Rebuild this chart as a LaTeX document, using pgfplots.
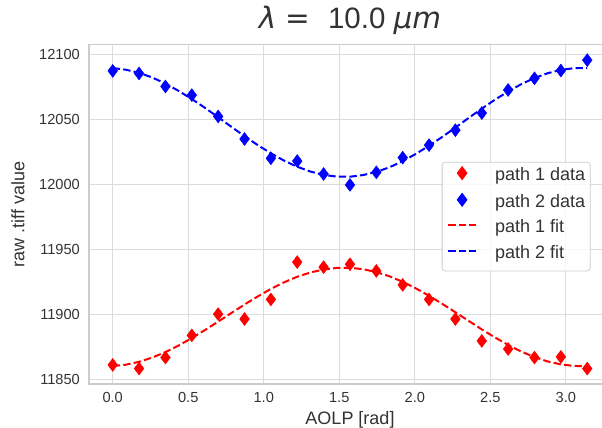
\documentclass[border=0pt]{standalone}
\usepackage{fontspec}
\setmainfont{Liberation Sans}
\newfontfamily\dejavu{DejaVu Sans}
\usepackage{pgfplots}
\pgfplotsset{compat=1.18}
\definecolor{gridc}{HTML}{DCDCDC}
\definecolor{framec}{HTML}{CCCCCC}
\definecolor{txt}{HTML}{333333}
\pgfplotsset{
  markleg/.style={legend image code/.code={\draw[##1, fill opacity=1, draw opacity=1] plot coordinates {(22pt,5pt)};}},
  lineleg/.style={legend image code/.code={\draw[##1, draw opacity=1] (8pt,5pt) -- (36pt,5pt);}},
}
\begin{document}
\begin{tikzpicture}
\begin{axis}[
  scale only axis, width=522pt, height=339.3pt,
  xmin=-0.157, xmax=3.299, ymin=11846.3, ymax=12107.9,
  xtick={0,0.5,...,3.0}, ytick={11850,11900,...,12100},
  scaled ticks=false,
  /pgf/number format/assume math mode=true,
  xticklabel style={/pgf/number format/fixed, /pgf/number format/fixed zerofill, /pgf/number format/precision=1},
  yticklabel style={/pgf/number format/fixed, /pgf/number format/1000 sep={}},
  tick label style={font=\fontsize{14.6}{17}\selectfont, text=txt},
  xticklabel style={inner sep=0pt, anchor=north, yshift=-8pt},
  yticklabel style={inner sep=0pt, anchor=east, xshift=-9pt},
  major tick length=0pt,
  grid=major,
  major grid style={draw=gridc, line width=1pt},
  axis line style={draw=framec, line width=1.25pt},
  title={{\dejavu\itshape λ}{\dejavu\ =\ } 10.0 {\dejavu\itshape μm}},
  title style={at={(0.5,1)}, anchor=base, yshift=9.7pt, font=\fontsize{29.5}{34}\selectfont, text=txt, inner sep=0pt},
  xlabel={AOLP [rad]},
  xlabel style={at={(axis description cs:0.5,0)}, anchor=base, yshift=-40pt, font=\fontsize{18}{22}\selectfont, text=txt, inner sep=0pt},
  ylabel={raw .tiff value},
  ylabel style={at={(axis description cs:-0.136,0.5)}, anchor=center, font=\fontsize{18}{22}\selectfont, text=txt, inner sep=0pt},
  legend cell align=left,
  legend style={at={(rel axis cs:0.6757,0.655)}, anchor=north west,
    font=\fontsize{18}{22}\selectfont, text=txt,
    draw=framec, line width=0.8pt, rounded corners=3pt, fill=white, fill opacity=0.8, text opacity=1,
    inner xsep=5pt, inner ysep=4.5pt, row sep=4.6pt, column sep=18pt,
    nodes={inner sep=0pt, text height=13pt, text depth=8pt}},
]
\addplot[only marks, mark=diamond*, mark size=6.5pt, color=red, markleg]
coordinates {
(0.0000,11861.0) (0.1745,11858.2) (0.3491,11866.7) (0.5236,11883.8) (0.6981,11900.2)
(0.8727,11896.4) (1.0472,11911.5) (1.2217,11940.3) (1.3963,11936.4) (1.5708,11938.6)
(1.7453,11933.5) (1.9199,11922.7) (2.0944,11911.5) (2.2689,11896.4) (2.4435,11879.5)
(2.6180,11873.3) (2.7925,11866.7) (2.9671,11867.2) (3.1416,11858.2)
};
\addlegendentry{path 1 data}
\addplot[only marks, mark=diamond*, mark size=6.5pt, color=blue, markleg]
coordinates {
(0.0000,12087.7) (0.1745,12085.7) (0.3491,12075.7) (0.5236,12069.0) (0.6981,12052.6)
(0.8727,12035.2) (1.0472,12020.3) (1.2217,12018.2) (1.3963,12008.2) (1.5708,11999.8)
(1.7453,12009.5) (1.9199,12020.8) (2.0944,12030.5) (2.2689,12042.0) (2.4435,12055.2)
(2.6180,12073.0) (2.7925,12082.0) (2.9671,12088.0) (3.1416,12096.0)
};
\addlegendentry{path 2 data}
\addplot[no marks, color=red, line width=2pt, dash pattern=on 7.4pt off 3.2pt, lineleg]
coordinates {
(0.0000,11860.1) (0.0873,11861.2) (0.1745,11863.4) (0.2618,11866.7) (0.3491,11870.9)
(0.4363,11876.0) (0.5236,11881.7) (0.6109,11887.9) (0.6981,11894.4) (0.7854,11901.0)
(0.8727,11907.6) (0.9599,11913.8) (1.0472,11919.6) (1.1345,11924.7) (1.2217,11929.0)
(1.3090,11932.3) (1.3963,11934.6) (1.4835,11935.8) (1.5708,11935.9) (1.6581,11934.8)
(1.7453,11932.6) (1.8326,11929.3) (1.9199,11925.1) (2.0071,11920.0) (2.0944,11914.3)
(2.1817,11908.1) (2.2689,11901.6) (2.3562,11895.0) (2.4435,11888.4) (2.5307,11882.2)
(2.6180,11876.4) (2.7053,11871.3) (2.7925,11867.0) (2.8798,11863.7) (2.9671,11861.4)
(3.0543,11860.2) (3.1416,11860.1)
};
\addlegendentry{path 1 fit}
\addplot[no marks, color=blue, line width=2pt, dash pattern=on 7.4pt off 3.2pt, lineleg]
coordinates {
(0.0000,12089.9) (0.0873,12088.6) (0.1745,12086.2) (0.2618,12082.6) (0.3491,12077.9)
(0.4363,12072.3) (0.5236,12066.0) (0.6109,12059.2) (0.6981,12052.0) (0.7854,12044.6)
(0.8727,12037.4) (0.9599,12030.5) (1.0472,12024.2) (1.1345,12018.5) (1.2217,12013.8)
(1.3090,12010.1) (1.3963,12007.5) (1.4835,12006.2) (1.5708,12006.1) (1.6581,12007.4)
(1.7453,12009.8) (1.8326,12013.4) (1.9199,12018.1) (2.0071,12023.7) (2.0944,12030.0)
(2.1817,12036.8) (2.2689,12044.0) (2.3562,12051.4) (2.4435,12058.6) (2.5307,12065.5)
(2.6180,12071.8) (2.7053,12077.5) (2.7925,12082.2) (2.8798,12085.9) (2.9671,12088.5)
(3.0543,12089.8) (3.1416,12089.9)
};
\addlegendentry{path 2 fit}
\end{axis}
\pgfresetboundingbox
\useasboundingbox ([xshift=-89pt,yshift=-44pt]current axis.south west) rectangle ([xshift=-9pt,yshift=44.7pt]current axis.north east);
\end{tikzpicture}
\end{document}
